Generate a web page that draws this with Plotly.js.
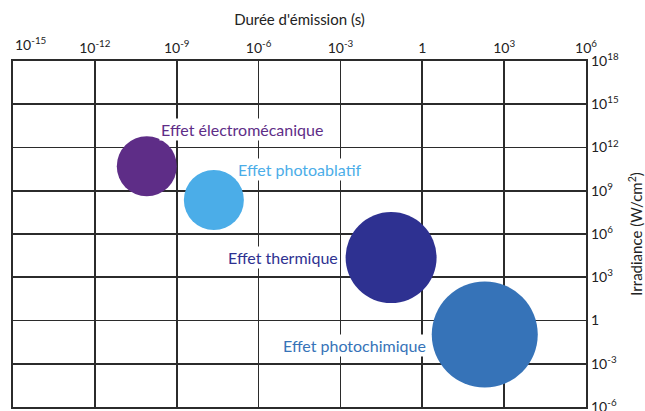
<!DOCTYPE html>
<html>
<head>
<meta charset="utf-8">
<script src="https://cdn.plot.ly/plotly-3.0.1.min.js"></script>
<style>html,body{margin:0;padding:0;background:#fff;}#chart{width:645px;height:411px;}</style>
</head>
<body>
<div id="chart"></div>
<script>
// Data
const effects = ["Effet électromécanique", "Effet photoablatif", "Effet thermique", "Effet photochimique"];
const duration = [8e-11, 2.3e-8, 0.072, 195];          // s
const irradiance = [5e10, 2.3e8, 2.3e4, 0.107];       // W/cm²
const bubbleSize = [60, 60, 91, 106];
const colors = ["#5E2D87", "#4BADE8", "#2E3191", "#3673B8"];

const xTickVals = [1e-15, 1e-12, 1e-9, 1e-6, 1e-3, 1, 1e3, 1e6];
const xTickText = ["10<sup>-15</sup>", "10<sup>-12</sup>", "10<sup>-9</sup>", "10<sup>-6</sup>", "10<sup>-3</sup>", "1", "10<sup>3</sup>", "10<sup>6</sup>"];
const yTickVals = [1e-6, 1e-3, 1, 1e3, 1e6, 1e9, 1e12, 1e15, 1e18];
const yTickText = ["10<sup>-6</sup>", "10<sup>-3</sup>", "1", "10<sup>3</sup>", "10<sup>6</sup>", "10<sup>9</sup>", "10<sup>12</sup>", "10<sup>15</sup>", "10<sup>18</sup>"];

const FONT = "Lato, 'Open Sans', sans-serif";

const trace = {
  type: "scatter",
  mode: "markers",
  x: duration,
  y: irradiance,
  text: effects,
  hoverinfo: "text",
  marker: { size: bubbleSize, sizemode: "diameter", color: colors, opacity: 1, line: { width: 0 } },
  cliponaxis: false
};

// label placements (log10 coords)
const labelPos = [
  { x: -9.65, y: 13.28, xanchor: "left" },
  { x: -6.83, y: 10.44, xanchor: "left" },
  { x: -3.0, y: 4.34, xanchor: "right" },
  { x: 0.22, y: -1.7, xanchor: "right" }
];

const annotations = effects.map((t, i) => ({
  text: t,
  x: labelPos[i].x, y: labelPos[i].y,
  xref: "x", yref: "y",
  xanchor: labelPos[i].xanchor, yanchor: "middle",
  showarrow: false,
  bgcolor: "#ffffff",
  borderpad: 1,
  font: { family: FONT, size: 16, color: colors[i] }
}));

// first x tick label, left-aligned at the plot edge as in the original
const shownXTickText = xTickText.slice();
shownXTickText[0] = "";
annotations.push({
  text: xTickText[0],
  xref: "paper", yref: "paper",
  x: 0, y: 1, xanchor: "left", yanchor: "bottom", yshift: 6,
  showarrow: false,
  font: { family: FONT, size: 14, color: "#222222" }
});

const axisCommon = {
  type: "log",
  showgrid: true,
  gridcolor: "#2b2b2b",
  gridwidth: 1.8,
  showline: true,
  linecolor: "#2b2b2b",
  linewidth: 2.2,
  mirror: true,
  ticks: "",
  zeroline: false,
  ticklabeloverflow: "allow",
  tickfont: { family: FONT, size: 14, color: "#222222" },
  fixedrange: true
};

const layout = {
  width: 645, height: 411,
  margin: { l: 13, r: 59, t: 61, b: 4 },
  paper_bgcolor: "#ffffff",
  plot_bgcolor: "#ffffff",
  showlegend: false,
  xaxis: Object.assign({}, axisCommon, {
    side: "top",
    range: [-15.0005, 6.0005],
    tickvals: xTickVals,
    ticktext: shownXTickText,
    title: { text: "Durée d'émission (s)", font: { family: FONT, size: 15, color: "#222222" }, standoff: 8 }
  }),
  yaxis: Object.assign({}, axisCommon, {
    side: "right",
    range: [-6.0005, 18.0005],
    tickvals: yTickVals,
    ticktext: yTickText,
    title: { text: "Irradiance (W/cm<sup>2</sup>)", font: { family: FONT, size: 15, color: "#222222" }, standoff: 14 }
  }),
  annotations: annotations
};

Plotly.newPlot("chart", [trace], layout, { displayModeBar: false, staticPlot: true });
</script>
</body>
</html>
